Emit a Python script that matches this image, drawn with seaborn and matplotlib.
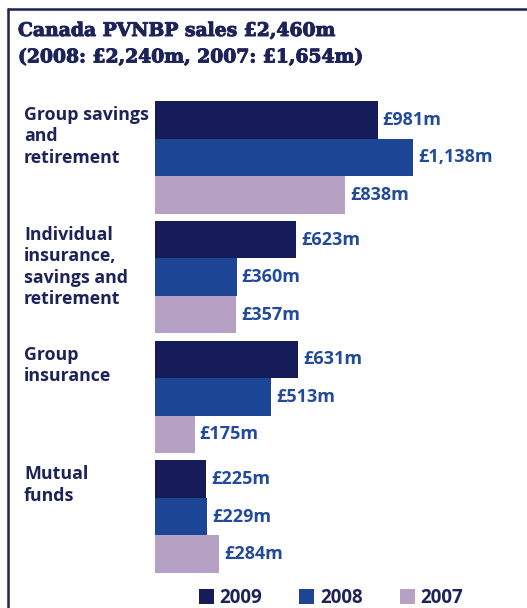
import pandas as pd
import numpy as np
import matplotlib.pyplot as plt
import matplotlib.patheffects as pe
import seaborn as sns
from matplotlib.lines import Line2D
from matplotlib.patches import Patch

# ------------------------------------------
# Data
# ------------------------------------------

categories = [
    "Group savings\nand\nretirement",
    "Individual\ninsurance,\nsavings and\nretirement",
    "Group\ninsurance",
    "Mutual\nfunds",
]
years = ["2009", "2008", "2007"]
sales_2009 = [981, 623, 631, 225]
sales_2008 = [1138, 360, 513, 229]
sales_2007 = [838, 357, 175, 284]

title = "Canada PVNBP sales £2,460m\n(2008: £2,240m, 2007: £1,654m)"

colors = ["#161b5a", "#1c4596", "#b6a0c4"]
navy = "#1d2259"
label_blue = "#234b9a"

df = pd.DataFrame({
    "category": categories * 3,
    "year": [y for y in years for _ in categories],
    "sales": sales_2009 + sales_2008 + sales_2007,
})

# ------------------------------------------
# Plot
# ------------------------------------------

sns.set_style("white")
plt.rcParams['font.family'] = ['Open Sans', 'DejaVu Sans']

fig = plt.figure(figsize=(5.27, 6.08), dpi=100)
ax = fig.add_axes([155 / 527, 35 / 608, 372 / 527, 472 / 608])

sns.barplot(
    data=df,
    x="sales",
    y="category",
    hue="year",
    hue_order=years,
    order=categories,
    palette=colors,
    orient="h",
    width=0.94,
    saturation=1,
    linewidth=0,
    legend=False,
    ax=ax,
)

ax.set_xlim(0, 1640)
ax.set_ylim(3.47, -0.47)
ax.axis("off")

for container in ax.containers:
    vals = [b.get_width() for b in container]
    ax.bar_label(
        container,
        labels=[f"£{v:,.0f}m" for v in vals],
        padding=3.6,
        color=label_blue,
        fontsize=13,
        fontweight="bold",
    )

# category labels on the left
for i, cat in enumerate(categories):
    ax.annotate(
        cat,
        xy=(0, i - 0.47),
        xycoords=("figure fraction", "data"),
        xytext=(24, -5),
        textcoords="offset pixels",
        ha="left",
        va="top",
        fontsize=12.8,
        fontweight="bold",
        color=navy,
        linespacing=1.24,
    )

# title
fig.text(
    18 / 527, 1 - 22 / 608, title,
    ha="left", va="top",
    fontsize=13.5, fontweight="bold",
    family=["DejaVu Serif"],
    color=navy,
    linespacing=1.6,
    path_effects=[pe.withStroke(linewidth=0.7, foreground=navy)],
)

# frame
fig.add_artist(Line2D([8 / 527, 1], [1 - 9 / 608, 1 - 9 / 608],
                      transform=fig.transFigure, color=navy, lw=1.8))
fig.add_artist(Line2D([8 / 527, 8 / 527], [0, 1 - 9 / 608],
                      transform=fig.transFigure, color=navy, lw=1.8))

# legend
handles = [Patch(facecolor=c, edgecolor="none") for c in colors]
fig.legend(
    handles, years,
    loc="center",
    bbox_to_anchor=(331 / 527, 1 - 598 / 608),
    ncol=3,
    frameon=False,
    handlelength=0.8,
    handleheight=0.8,
    handletextpad=0.3,
    columnspacing=2.0,
    prop={"size": 13.5, "weight": "bold"},
    labelcolor=navy,
)

plt.savefig("out.png", dpi=100)
